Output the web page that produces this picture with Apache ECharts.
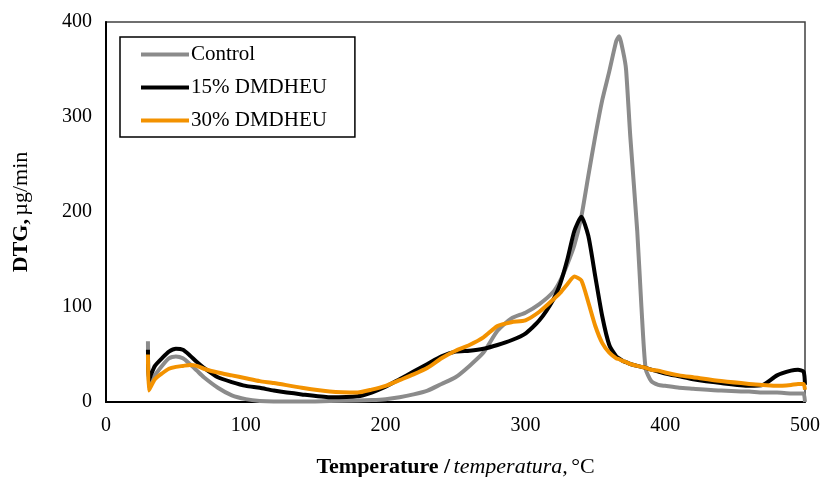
<!DOCTYPE html>
<html>
<head>
<meta charset="UTF-8">
<title>DTG</title>
<script src="https://cdn.jsdelivr.net/npm/echarts@6/dist/echarts.min.js"></script>
<style>
  html, body { margin: 0; padding: 0; background: #fff; }
  #chart { width: 822px; height: 477px; }
</style>
</head>
<body>
<div id="chart"></div>
<script>
// temperature, °C
var temps = [30, 30.5, 32, 35, 40, 45, 50, 55, 60, 65, 70, 80, 90, 100, 110, 120, 140, 160, 180, 190, 200,
  210, 220, 230, 240, 250, 260, 270, 280, 290, 300, 310, 320, 325, 330, 335, 340, 345, 350, 355, 360,
  365, 367, 370, 372, 375, 380, 383, 386, 390, 395, 400, 410, 420, 440, 460, 470, 480, 490, 495, 499, 500];

// DTG, µg/min
var control = [64, 15, 18, 28, 38, 46, 48, 46, 40, 33, 26, 15, 7, 3, 1, 0.5, 0.5, 1, 1.5, 2, 3,
  5, 8, 12, 19, 26, 38, 52, 75, 88, 94, 103, 116, 128, 145, 165, 195, 238, 280, 318, 348,
  380, 385, 368, 350, 280, 180, 100, 35, 22, 18, 17, 15, 14, 12, 11, 10, 10, 9, 9, 9, 0];

var dmdheu15 = [55, 22, 28, 38, 46, 53, 56, 55, 49, 42, 36, 26, 21, 17, 15, 12, 8, 5, 6, 10, 16,
  24, 32, 40, 48, 53, 54, 56, 60, 65, 72, 86, 108, 125, 150, 180, 195, 175, 132, 90, 60,
  48, 46, 43, 42, 40, 38, 37, 36, 34, 32, 30, 27, 24, 20, 17, 18, 28, 33, 34, 32, 18];

var dmdheu30 = [50, 12, 16, 24, 30, 35, 37, 38, 39, 38, 35, 31, 28, 25, 22, 20, 15, 11, 10, 13, 17,
  23, 29, 36, 46, 54, 60, 68, 80, 84, 86, 95, 108, 115, 124, 132, 128, 105, 80, 62, 52,
  46, 45, 43, 42, 40, 38, 37, 36, 34, 33, 31, 28, 26, 22, 19, 18, 17, 18, 19, 19, 13];

var seriesNames = ['Control', '15% DMDHEU', '30% DMDHEU'];
var seriesColors = ['#8b8b8b', '#000000', '#f39200'];

function pairs(vals) {
  return temps.map(function (t, i) { return [t, vals[i]]; });
}

var chart = echarts.init(document.getElementById('chart'));

var font = 'Liberation Serif';

var option = {
  animation: false,
  backgroundColor: '#fff',
  grid: {
    left: 106, right: 17, top: 22, bottom: 75,
    outerBoundsMode: 'none',
    containLabel: false,
    show: true, borderColor: '#404040', borderWidth: 1.5
  },
  legend: {
    orient: 'vertical',
    left: 120, top: 37,
    padding: [7, 28, 6, 21],
    borderColor: '#000', borderWidth: 1.5,
    itemWidth: 48, itemHeight: 4, itemGap: 12,
    icon: 'rect',
    textStyle: { fontFamily: font, fontSize: 21, color: '#000', padding: [0, 0, 0, -3], lineHeight: 21 },
    data: seriesNames
  },
  xAxis: {
    type: 'value', min: 0, max: 500, interval: 100,
    splitLine: { show: false },
    axisTick: { show: false },
    axisLine: { lineStyle: { color: '#000', width: 2 } },
    axisLabel: { fontFamily: font, fontSize: 20, color: '#000', margin: 14 },
    name: '{b|Temperature /} {i|temperatura,} {n|°C}',
    nameLocation: 'middle', nameGap: 54,
    nameTextStyle: {
      rich: {
        b: { fontFamily: font, fontSize: 22, fontWeight: 'bold', color: '#000' },
        i: { fontFamily: font, fontSize: 22, fontStyle: 'italic', color: '#000' },
        n: { fontFamily: font, fontSize: 22, color: '#000' }
      }
    }
  },
  yAxis: {
    type: 'value', min: 0, max: 400, interval: 100,
    splitLine: { show: false },
    axisTick: { show: false },
    axisLine: { show: true, lineStyle: { color: '#000', width: 2 } },
    axisLabel: { fontFamily: font, fontSize: 20, color: '#000', margin: 14 },
    name: '{b|DTG,} {n|µg/min}',
    nameLocation: 'middle', nameGap: 74, nameRotate: 90,
    nameTextStyle: {
      rich: {
        b: { fontFamily: font, fontSize: 22, fontWeight: 'bold', color: '#000' },
        n: { fontFamily: font, fontSize: 22, color: '#000' }
      }
    }
  },
  series: [control, dmdheu15, dmdheu30].map(function (vals, i) {
    return {
      name: seriesNames[i],
      type: 'line',
      data: pairs(vals),
      showSymbol: false,
      symbol: 'none',
      smooth: 0.2,
      color: seriesColors[i],
      lineStyle: { width: 4, color: seriesColors[i] }
    };
  })
};

chart.setOption(option);
</script>
</body>
</html>
